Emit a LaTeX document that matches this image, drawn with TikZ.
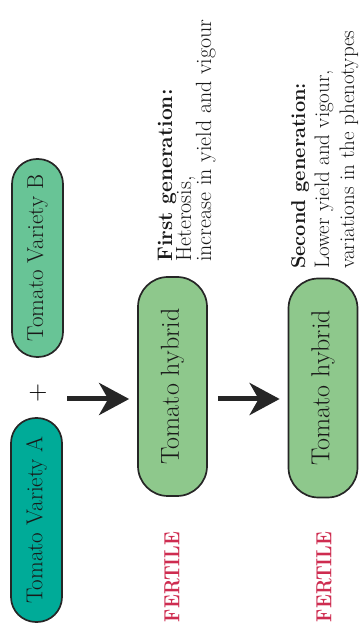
\documentclass[tikz,border=0pt]{standalone}
\usepackage{graphicx}
\usetikzlibrary{arrows.meta}
\definecolor{tealA}{RGB}{0,171,152}
\definecolor{greenB}{RGB}{104,196,150}
\definecolor{hyb}{RGB}{142,200,140}
\definecolor{fert}{RGB}{206,44,80}
\begin{document}
\begin{tikzpicture}[x=1pt,y=1pt,
  pill/.style={draw=black!85, line width=1.7pt, rounded corners=#1, rotate=90, inner sep=0pt, align=center, text=black!90},
  txt/.style={rotate=90, inner sep=0pt, anchor=base west, text=black!90},
  fertile/.style={rotate=90, inner sep=0pt, text=fert},
  flow/.style={line width=5pt, draw=black!85, -{Stealth[length=30pt,width=32pt,inset=9pt]}}]
\useasboundingbox (0,0) rectangle (359,624);
% parents
\node[pill=25pt, fill=tealA, minimum width=204pt, minimum height=51pt,
      font=\fontsize{23}{26}\selectfont] (A) at (36.5,104) {Tomato Variety A};
\node[pill=25pt, fill=greenB, minimum width=198pt, minimum height=51pt,
      font=\fontsize{23}{26}\selectfont] (B) at (37.5,366) {Tomato Variety B};
\node[inner sep=0pt, font=\fontsize{26}{26}\selectfont] (plus) at (38,231) {+};
% hybrids
\node[pill=30pt, fill=hyb, minimum width=219pt, minimum height=69pt,
      font=\fontsize{26}{30}\selectfont] (H1) at (172.5,237.5) {Tomato hybrid};
\node[pill=30pt, fill=hyb, minimum width=219pt, minimum height=69pt,
      font=\fontsize{26}{30}\selectfont] (H2) at (323,236) {Tomato hybrid};
% arrows
\coordinate (ay) at (0,225);
\coordinate (a1s) at (67,225);
\draw[flow, shorten >=8pt] (a1s) -- (a1s -| H1.north);
\draw[flow, shorten <=10pt, shorten >=8pt] (H1.south |- ay) -- (H2.north |- ay);
% fertile labels
\node[fertile] (F1) at (172,47) {\resizebox{90pt}{15pt}{\bfseries FERTILE}};
\node[fertile] (F2) at (324,47) {\resizebox{90pt}{15pt}{\bfseries FERTILE}};
% first generation text
\node[txt, font=\fontsize{21}{24}\selectfont\bfseries] (g1a) at (172,362) {First generation:};
\node[txt, font=\fontsize{22}{24}\selectfont] (g1b) at (191,362) {Heterosis,};
\node[txt, font=\fontsize{22}{24}\selectfont] (g1c) at (211,362) {increase in yield and vigour};
% second generation text
\node[txt, font=\fontsize{20}{24}\selectfont\bfseries] (g2a) at (305,355) {Second generation:};
\node[txt, font=\fontsize{21}{24}\selectfont] (g2b) at (329,355) {Lower yield and vigour,};
\node[txt, font=\fontsize{21}{24}\selectfont] (g2c) at (354,355) {variations in the phenotypes};
\end{tikzpicture}
\end{document}
